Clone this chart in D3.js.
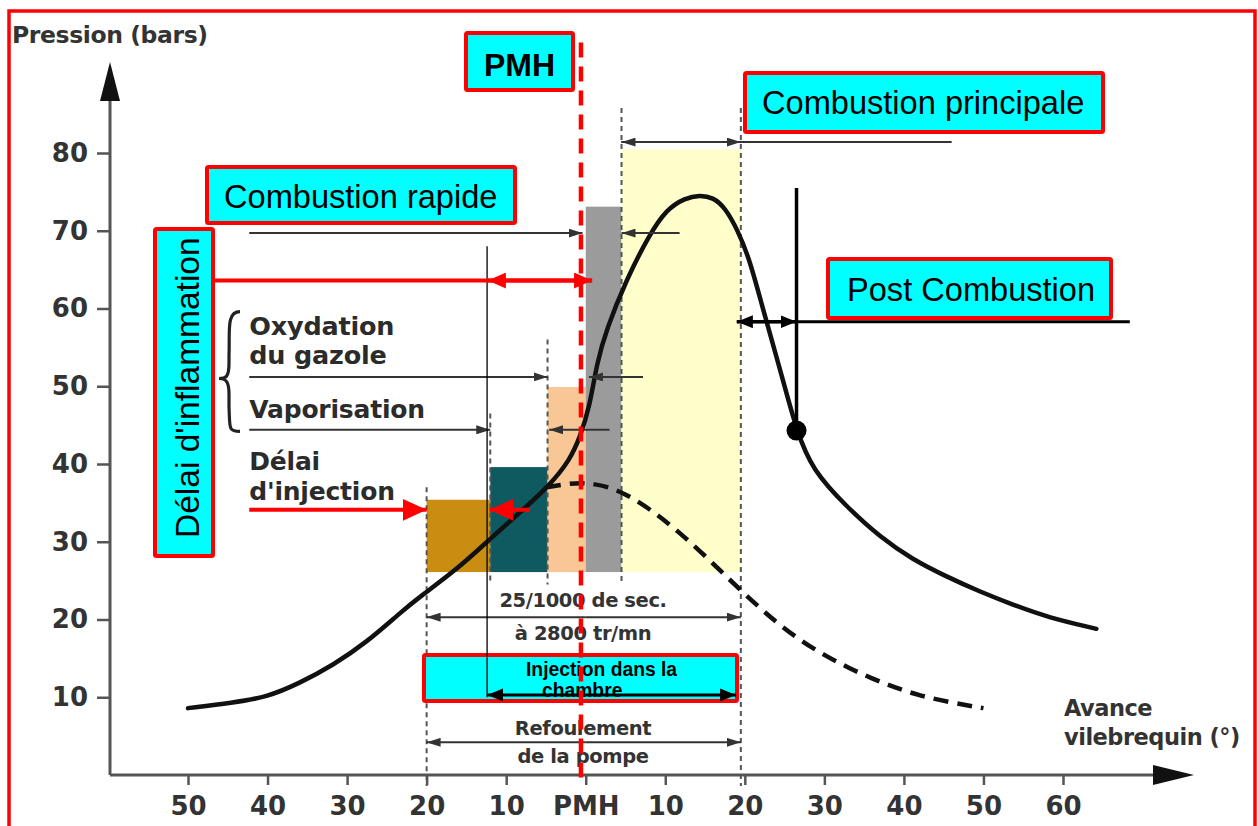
<!DOCTYPE html>
<html><head><meta charset="utf-8">
<script src="https://cdn.jsdelivr.net/npm/d3@7"></script>
<style>body{margin:0;background:#fff;overflow:hidden}</style>
</head><body>
<svg id="c" width="1258" height="826"></svg>
<script>
// ---------- DATA ----------
const xTickValues = [-50,-40,-30,-20,-10,0,10,20,30,40,50,60];
const xTickLabels = ["50","40","30","20","10","PMH","10","20","30","40","50","60"];
const yTickValues = [10,20,30,40,50,60,70,80];

// pression avec combustion (courbe pleine)
const pressureAngles = [-50,-44.4,-40.1,-36,-31.8,-27.5,-23.4,-20.9,-16,-12,-8,-4.5,-2,-0.7,0.5,1.4,2.6,5.1,8,10.2,12.5,14.3,16,17.5,19.1,20.6,22,23.5,24.8,26.5,28.5,32.8,37,41.1,45.4,49.5,53.7,58,64.2];
const pressureValues = [8.6,9.3,10.0,11.8,14.1,17.1,20.8,22.9,26.6,30.4,34.0,37.3,40.5,43.5,47.4,53.0,57.3,63.7,69.5,72.8,74.2,74.6,74.3,73.0,70.1,66.3,61.0,55.5,50.8,44.3,39.2,34.5,30.6,27.7,25.5,23.6,21.9,20.3,18.8];

// pression sans combustion (courbe pointillée)
const motoredAngles = [-5,-2,0,3,6,9,12,15,18,21,24,27,30,33,36,39,42,46,50];
const motoredValues = [37.0,37.5,37.6,37.1,35.6,33.5,31.0,28.2,25.2,22.3,19.6,17.3,15.4,13.8,12.4,11.2,10.2,9.3,8.6];

// phases (rectangles colorés)
const phaseNames = ["Délai d'injection","Vaporisation","Oxydation","Combustion rapide","Combustion principale"];
const phaseStart = [-20,-12,-4.8,0,4.5];
const phaseEnd = [-12,-4.8,0,4.5,19.5];
const phaseTop = [35.4,39.6,49.9,73.1,80.5];
const phaseBase = 26.1;
const phaseColors = ["#c98d12","#0e5a60","#f9c795","#9b9b9b","#ffffcc"];

// lignes de repère pointillées
const guideAngles = [-20,-12,-4.8,4.5,19.5];
const guideTops = [37,46.5,56,85.8,85.8];
const guideBottoms = [-1.4,24.5,24.5,24.5,-1.4];

// ---------- LAYOUT ----------
const svg = d3.select("#c");
const x = d3.scaleLinear().domain([-50,60]).range([188,1063]);
const y = d3.scaleLinear().domain([0,80]).range([775,153]);
const DIAG_FONT = "'DejaVu Sans', sans-serif";
const BOX_FONT = "'Liberation Sans', Arial, sans-serif";
const ink = "#2b2b2b";

// markers
const defs = svg.append("defs");
function marker(id, len, wid, color){
  defs.append("marker").attr("id", id)
    .attr("viewBox", `0 0 ${len} ${wid}`).attr("refX", len).attr("refY", wid/2)
    .attr("markerWidth", len).attr("markerHeight", wid)
    .attr("markerUnits", "userSpaceOnUse").attr("orient", "auto")
    .append("path").attr("d", `M0,0L${len},${wid/2}L0,${wid}Z`).attr("fill", color);
}
marker("aThin", 14, 9, "#333");
marker("aBlack", 16, 13, "#000");
marker("aRed", 24, 22, "#ff0000");
marker("aRedS", 18, 16, "#ff0000");

// phase rectangles
svg.append("g").selectAll("rect").data(phaseNames).join("rect")
  .attr("x", (d,i) => x(phaseStart[i]))
  .attr("width", (d,i) => x(phaseEnd[i]) - x(phaseStart[i]))
  .attr("y", (d,i) => y(phaseTop[i]))
  .attr("height", (d,i) => y(phaseBase) - y(phaseTop[i]))
  .attr("fill", (d,i) => phaseColors[i]);

// guide dotted lines
svg.append("g").selectAll("line").data(guideAngles).join("line")
  .attr("x1", d => x(d)).attr("x2", d => x(d))
  .attr("y1", (d,i) => y(guideTops[i])).attr("y2", (d,i) => y(guideBottoms[i]))
  .attr("stroke", "#555").attr("stroke-width", 2).attr("stroke-dasharray", "5,4");

// axes
const yAxis = d3.axisLeft(y).tickValues(yTickValues).tickSize(13).tickPadding(9).tickFormat(d3.format("d"));
const gy = svg.append("g").attr("transform", "translate(110,0)").call(yAxis);
gy.select(".domain").remove();
gy.selectAll(".tick line").attr("stroke", "#555").attr("stroke-width", 2.5);
gy.selectAll(".tick text").attr("font-family", DIAG_FONT).attr("font-weight", "bold")
  .attr("font-size", 26).attr("fill", "#333");

const xAxis = d3.axisBottom(x).tickValues(xTickValues).tickSize(10).tickPadding(12)
  .tickFormat((d,i) => xTickLabels[i]);
const gx = svg.append("g").attr("transform", `translate(0,${y(0)})`).call(xAxis);
gx.select(".domain").remove();
gx.selectAll(".tick line").attr("stroke", "#555").attr("stroke-width", 2.5);
gx.selectAll(".tick text").attr("font-family", DIAG_FONT).attr("font-weight", "bold")
  .attr("font-size", 26).attr("fill", "#333");

// axis lines with arrowheads
svg.append("line").attr("x1", 110).attr("x2", 110).attr("y1", y(0)).attr("y2", 95)
  .attr("stroke", "#555").attr("stroke-width", 3);
svg.append("path").attr("d", "M110,62L120,101L100,101Z").attr("fill", "#111");
svg.append("line").attr("x1", 110).attr("x2", 1160).attr("y1", y(0)).attr("y2", y(0))
  .attr("stroke", "#555").attr("stroke-width", 3);
svg.append("path").attr("d", `M1194,${y(0)}L1153,${y(0)-10}L1153,${y(0)+10}Z`).attr("fill", "#111");

// axis titles
svg.append("text").attr("x", 12).attr("y", 43).text("Pression (bars)")
  .attr("font-family", DIAG_FONT).attr("font-weight", "bold").attr("font-size", 23.5)
  .attr("fill", "#333").attr("letter-spacing", -0.4);
const xt = svg.append("text").attr("font-family", DIAG_FONT).attr("font-weight", "bold")
  .attr("font-size", 22.5).attr("fill", "#333").attr("letter-spacing", -0.5);
xt.append("tspan").attr("x", 1064).attr("y", 716).text("Avance");
xt.append("tspan").attr("x", 1064).attr("y", 745).text("vilebrequin (°)");

// curves
const line = d3.line().curve(d3.curveBasis);
svg.append("path")
  .attr("d", line(motoredAngles.map((a,i) => [x(a), y(motoredValues[i])])))
  .attr("fill", "none").attr("stroke", "#111").attr("stroke-width", 4.5)
  .attr("stroke-dasharray", "15,9");
svg.append("path")
  .attr("d", line(pressureAngles.map((a,i) => [x(a), y(pressureValues[i])])))
  .attr("fill", "none").attr("stroke", "#111").attr("stroke-width", 4.5)
  .attr("stroke-linecap", "round").attr("stroke-linejoin", "round");

// helper arrows (angles / pressures)
function seg(a1, a2, p, style, mk){
  const s = {thin:["#333",2], black:["#000",3], red:["#ff0000",4]}[style];
  const l = svg.append("line").attr("x1", x(a1)).attr("x2", x(a2)).attr("y1", y(p)).attr("y2", y(p))
    .attr("stroke", s[0]).attr("stroke-width", s[1]);
  if (mk) l.attr("marker-end", `url(#${mk})`);
  return l;
}
function vseg(a, p1, p2, color, w){
  svg.append("line").attr("x1", x(a)).attr("x2", x(a)).attr("y1", y(p1)).attr("y2", y(p2))
    .attr("stroke", color).attr("stroke-width", w);
}

// grey (original) arrows
seg(4.5, 46, 81.4, "thin");
seg(19.5, 4.5, 81.4, "thin", "aThin");
seg(4.5, 19.5, 81.4, "thin", "aThin");
seg(-42.3, -0.4, 69.7, "thin", "aThin");
seg(11.8, 4.5, 69.7, "thin", "aThin");
seg(-42.3, -4.8, 51.2, "thin", "aThin");
seg(7.2, 0.4, 51.2, "thin", "aThin");
seg(-42.3, -12, 44.4, "thin", "aThin");
seg(3, -4.6, 44.4, "thin", "aThin");
seg(0, -20, 20.3, "thin", "aThin");
seg(0, 19.5, 20.3, "thin", "aThin");
seg(0, -20, 4.2, "thin", "aThin");
seg(0, 19.5, 4.2, "thin", "aThin");

// grey original texts
function dtext(tx, ty, str, size){
  svg.append("text").attr("x", tx).attr("y", ty).text(str)
    .attr("font-family", DIAG_FONT).attr("font-weight", "bold").attr("font-size", size)
    .attr("fill", ink).attr("letter-spacing", -0.2);
}
dtext(x(-42.3), 335, "Oxydation", 25.5);
dtext(x(-42.3), 364, "du gazole", 25.5);
dtext(x(-42.3), 418, "Vaporisation", 25);
dtext(x(-42.3), 470, "Délai", 25);
dtext(x(-42.3), 500, "d'injection", 25);
function ctext(cx, ty, str){
  svg.append("text").attr("x", cx).attr("y", ty).text(str).attr("text-anchor", "middle")
    .attr("font-family", DIAG_FONT).attr("font-weight", "bold").attr("font-size", 19.5)
    .attr("fill", "#333").attr("letter-spacing", -0.4);
}
ctext(583, 607, "25/1000 de sec.");
ctext(583, 640, "à 2800 tr/mn");
ctext(583, 735, "Refoulement");
ctext(583, 763, "de la pompe");

// brace
svg.append("path")
  .attr("d", `M240,${y(59.6)} C226,${y(59.6)} 230,${y(57)} 229,${y(54)} L229,${y(53)} C229,${y(51.2)} 226,${y(51)} 219,${y(51)} C226,${y(51)} 229,${y(50.6)} 229,${y(49)} L229,${y(47.4)} C230,${y(44.6)} 228,${y(44.2)} 240,${y(44.2)}`)
  .attr("fill", "none").attr("stroke", "#222").attr("stroke-width", 3.2);

// cyan boxes
function box(bx, by, bw, bh){
  svg.append("rect").attr("x", bx).attr("y", by).attr("width", bw).attr("height", bh)
    .attr("fill", "#00ffff").attr("stroke", "#ff0000").attr("stroke-width", 4).attr("rx", 1.5);
}
function btext(tx, ty, str, size, bold, anchor){
  return svg.append("text").attr("x", tx).attr("y", ty).text(str)
    .attr("font-family", BOX_FONT).attr("font-size", size)
    .attr("font-weight", bold ? "bold" : "normal").attr("fill", "#000")
    .attr("text-anchor", anchor || "start");
}

// injection box (under its arrow)
box(424, 655, 313, 46);
btext(526, 676, "Injection dans la", 19.3, true);
btext(542, 697, "chambre", 19.3, true);

// thin black vertical line + black arrows
vseg(-12.4, 68, 10, "#000", 1.3);
seg(0, -12.4, 10.3, "black", "aBlack");
seg(0, 18.9, 10.3, "black", "aBlack");

// post combustion
seg(19, 68.4, 58.3, "black");
seg(26.5, 19, 58.3, "black", "aBlack");
seg(19, 26.5, 58.3, "black", "aBlack");
vseg(26.5, 75.5, 44.3, "#000", 3.5);
svg.append("circle").attr("cx", x(26.5)).attr("cy", y(44.3)).attr("r", 10).attr("fill", "#000");

// red arrows
seg(-42.3, -20, 34.1, "red", "aRed");
seg(-7, -12.1, 34.1, "red", "aRed");
seg(-46.9, 0.8, 63.6, "red", "aRedS");
seg(0.8, -12.3, 63.6, "red", "aRedS");

// other boxes
box(466, 33, 107, 57);
btext(519.5, 76, "PMH", 32, true, "middle");
box(207, 167, 308, 56);
btext(224, 208, "Combustion rapide", 32.6);
box(155, 229, 58, 327);
btext(0, 0, "Délai d'inflammation", 33.5).attr("transform", "translate(199,538) rotate(-90)");
box(745, 73, 358, 59);
btext(762, 114, "Combustion principale", 32.6);
box(828, 259, 283, 59);
btext(847, 301, "Post Combustion", 32.6);

// red dashed PMH line
svg.append("line").attr("x1", x(-0.6)).attr("x2", x(-0.6)).attr("y1", y(94.2)).attr("y2", y(-1.3))
  .attr("stroke", "#ff0000").attr("stroke-width", 4.5).attr("stroke-dasharray", "15,9");

// red frame
svg.append("rect").attr("x", 9).attr("y", 11).attr("width", 1246).attr("height", 840)
  .attr("fill", "none").attr("stroke", "#ff0000").attr("stroke-width", 3.5);
</script>
</body></html>
